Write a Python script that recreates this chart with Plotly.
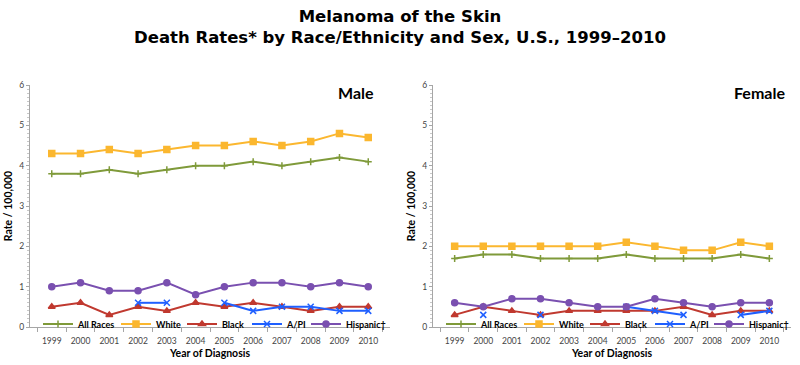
import plotly.graph_objects as go

years = [str(y) for y in range(1999, 2011)]

male_all = [3.8, 3.8, 3.9, 3.8, 3.9, 4.0, 4.0, 4.1, 4.0, 4.1, 4.2, 4.1]
male_white = [4.3, 4.3, 4.4, 4.3, 4.4, 4.5, 4.5, 4.6, 4.5, 4.6, 4.8, 4.7]
male_black = [0.5, 0.6, 0.3, 0.5, 0.4, 0.6, 0.5, 0.6, 0.5, 0.4, 0.5, 0.5]
male_api = [None, None, None, 0.6, 0.6, None, 0.6, 0.4, 0.5, 0.5, 0.4, 0.4]
male_hisp = [1.0, 1.1, 0.9, 0.9, 1.1, 0.8, 1.0, 1.1, 1.1, 1.0, 1.1, 1.0]

female_all = [1.7, 1.8, 1.8, 1.7, 1.7, 1.7, 1.8, 1.7, 1.7, 1.7, 1.8, 1.7]
female_white = [2.0, 2.0, 2.0, 2.0, 2.0, 2.0, 2.1, 2.0, 1.9, 1.9, 2.1, 2.0]
female_black = [0.3, 0.5, 0.4, 0.3, 0.4, 0.4, 0.4, 0.4, 0.5, 0.3, 0.4, 0.4]
female_api = [None, 0.3, None, 0.3, None, None, 0.5, 0.4, 0.3, None, 0.3, 0.4]
female_hisp = [0.6, 0.5, 0.7, 0.7, 0.6, 0.5, 0.5, 0.7, 0.6, 0.5, 0.6, 0.6]

series_names = ["All Races", "White", "Black", "A/PI", "Hispanic\u2020"]
colors = ["#7f9a3a", "#fbb72f", "#c0392f", "#1f5fff", "#7a50b0"]
symbols = ["cross-thin", "square", "triangle-up", "x-thin", "circle"]
sizes = [5, 6, 6, 6, 6]
legend_widths = [33, 21, 20, 14, 40]

male_data = [male_all, male_white, male_black, male_api, male_hisp]
female_data = [female_all, female_white, female_black, female_api, female_hisp]

fig = go.Figure()

for panel, data, xa, ya, lg in [("Male", male_data, "x", "y", "legend"),
                                ("Female", female_data, "x2", "y2", "legend2")]:
    for name, vals, c, s, sz, lw in zip(series_names, data, colors, symbols, sizes, legend_widths):
        fig.add_trace(go.Scatter(
            x=years, y=vals, name=name, mode="lines+markers",
            line=dict(color=c, width=2),
            marker=dict(symbol=s, size=sz, color=c, line=dict(color=c, width=1.5)),
            xaxis=xa, yaxis=ya, legend=lg, legendwidth=lw, connectgaps=False,
        ))

axis_font = dict(family="Lato, Carlito, sans-serif", size=8.5, color="#444")
title_font = dict(family="Lato, sans-serif", size=10.5, color="#000", weight="bold")

common_x = dict(type="category", showline=True, linecolor="#a6a6a6", linewidth=1,
                ticks="outside", tickson="boundaries", ticklen=4, tickcolor="#a6a6a6",
                tickfont=axis_font, tickangle=0, ticklabelstandoff=6,
                showgrid=False, zeroline=False, automargin=False,
                title=dict(text="Year of Diagnosis", font=title_font, standoff=4))
common_y = dict(range=[0, 6], dtick=1, showline=True, linecolor="#a6a6a6", linewidth=1,
                ticks="outside", ticklen=3, tickcolor="#a6a6a6", tickfont=axis_font,
                showgrid=False, zeroline=False, automargin=False,
                minor=dict(dtick=0.1, ticks="outside", ticklen=2, tickcolor="#c8c8c8"),
                title=dict(text="Rate / 100,000", font=title_font, standoff=4))

legend_font = dict(family="Lato, sans-serif", size=9, color="#000", weight="bold")
bottom = 38 / 365

fig.update_layout(
    width=800, height=365,
    margin=dict(l=0, r=0, t=0, b=0),
    paper_bgcolor="white", plot_bgcolor="white",
    title=dict(text="Melanoma of the Skin<br>Death Rates* by Race/Ethnicity and Sex, U.S., 1999\u20132010",
               x=0.5, xanchor="center", y=1 - 22 / 365, yanchor="middle", yref="container",
               font=dict(family="DejaVu Sans, Verdana, sans-serif", size=16.5, color="#000", weight="bold")),
    xaxis=dict(domain=[30 / 800, 390 / 800], anchor="y", **common_x),
    yaxis=dict(domain=[bottom, 280 / 365], anchor="x", **common_y),
    xaxis2=dict(domain=[433 / 800, 791 / 800], anchor="y2", **common_x),
    yaxis2=dict(domain=[bottom, 280 / 365], anchor="x2", **common_y),
    legend=dict(orientation="h", x=38 / 800, xanchor="left", y=41 / 365, yanchor="middle",
                xref="paper", yref="paper", bgcolor="rgba(0,0,0,0)",
                font=legend_font, itemwidth=30, tracegroupgap=0),
    legend2=dict(orientation="h", x=441 / 800, xanchor="left", y=41 / 365, yanchor="middle",
                 xref="paper", yref="paper", bgcolor="rgba(0,0,0,0)",
                 font=legend_font, itemwidth=30, tracegroupgap=0),
    annotations=[
        dict(text="<b>Male</b>", xref="x domain", yref="y domain", x=0.96, y=0.97,
             xanchor="right", yanchor="middle", showarrow=False,
             font=dict(family="Lato, sans-serif", size=16, color="#000")),
        dict(text="<b>Female</b>", xref="x2 domain", yref="y2 domain", x=0.99, y=0.97,
             xanchor="right", yanchor="middle", showarrow=False,
             font=dict(family="Lato, sans-serif", size=16, color="#000")),
    ],
)

fig.write_html("out.html", config={"displayModeBar": False},
               post_script="document.body.style.margin='0';")
